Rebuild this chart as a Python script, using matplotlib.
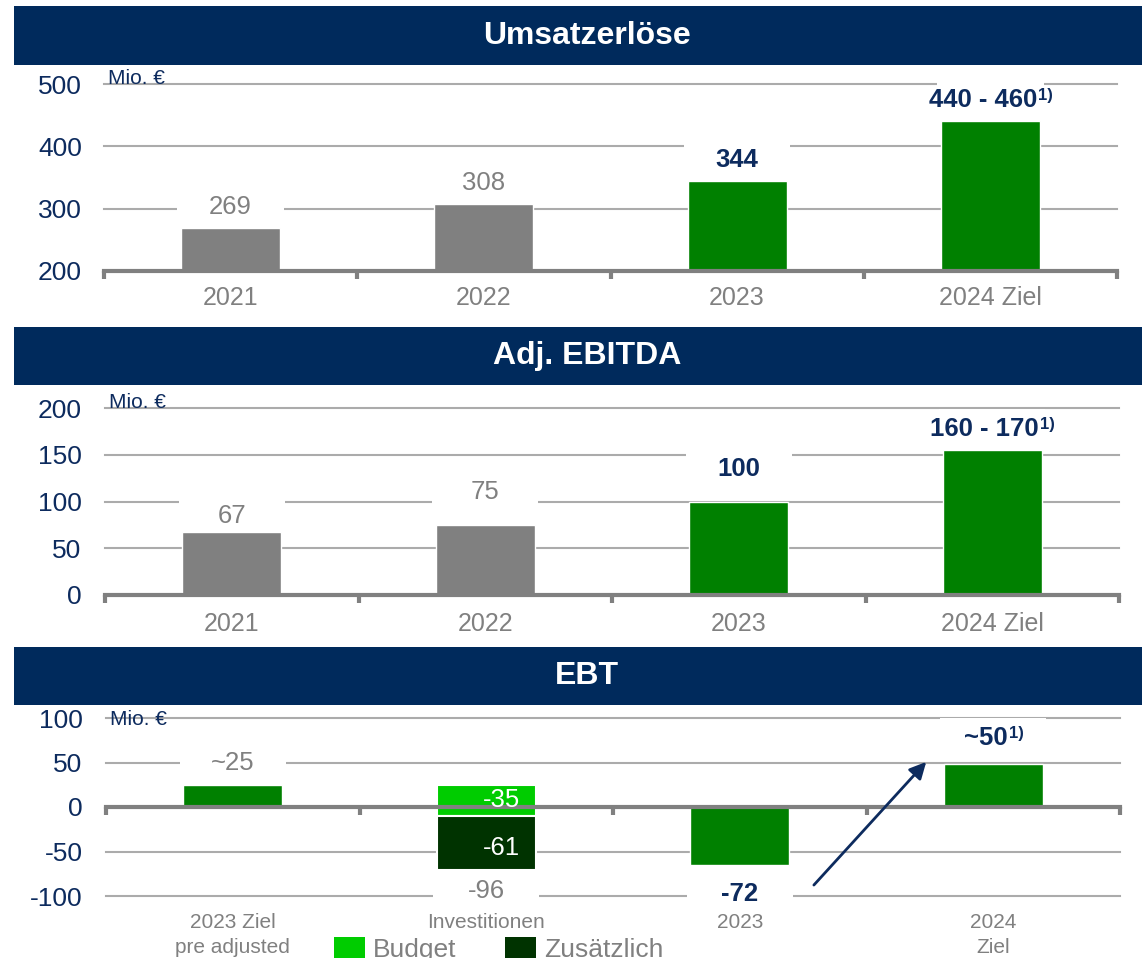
import matplotlib.pyplot as plt
from matplotlib.patches import Rectangle, Patch

plt.rcParams['font.family'] = ['Liberation Sans', 'DejaVu Sans']
plt.rcParams['axes.unicode_minus'] = False

W, H = 1142, 958
navy = '#002A5C'
txt_navy = '#0D2B5E'
grey = '#808080'
gridc = '#ABABAB'
green = '#008000'
light_green = '#00CC00'
dark_green = '#003300'

# data
years = ['2021', '2022', '2023', '2024 Ziel']
umsatz = [269, 308, 344, 440]
umsatz_lbl = ['269', '308', '344', '440 - 460']
ebitda = [67, 75, 99, 155]
ebitda_lbl = ['67', '75', '100', '160 - 170']
ebt_cats = ['2023 Ziel\npre adjusted', 'Investitionen', '2023', '2024\nZiel']
ebt_ziel = 25
budget = -35
zusaetzlich = -61
ebt_2023 = -65
ebt_2024 = 48
ebt_2023_lbl = '-72'
ebt_2024_lbl = '~50'
arrow_tail = (2.285, -90)
arrow_tip = (2.743, 53)

bar_colors = [grey, grey, green, green]
bw = 0.39

fig = plt.figure(figsize=(W / 100, H / 100), dpi=100)


def make_ax(left, right, top, bottom):
    return fig.add_axes([left / W, 1 - bottom / H, (right - left) / W, (bottom - top) / H])


def header(top, bottom, title):
    fig.add_artist(Rectangle((14 / W, 1 - bottom / H), 1, (bottom - top) / H,
                             transform=fig.transFigure, color=navy, lw=0))
    fig.text(587 / W, 1 - (top + bottom) / 2 / H, title, color='white', fontsize=23,
             fontweight='bold', ha='center', va='center')


def style(ax, ylim, yticks, cats, base, ypad, xpad, xsize, mio_dy=0):
    ax.set_xlim(-0.5, 3.5)
    ax.set_ylim(ylim)
    for s in ['top', 'right', 'left']:
        ax.spines[s].set_visible(False)
    ax.spines['bottom'].set_position(('data', base))
    ax.spines['bottom'].set_color(grey)
    ax.spines['bottom'].set_linewidth(3)
    ax.spines['bottom'].set_zorder(3)
    ax.set_yticks(yticks)
    ax.tick_params(axis='y', length=0, labelsize=19, labelcolor=txt_navy, pad=ypad)
    for y in yticks:
        if y != base:
            ax.axhline(y, color=gridc, lw=1.5, zorder=0.5, clip_on=False)
    ax.set_xticks(range(4))
    ax.set_xticklabels(cats)
    ax.set_xticks([-0.5, 0.5, 1.5, 2.5, 3.5], minor=True)
    ax.tick_params(axis='x', which='major', length=0, labelcolor=grey, labelsize=xsize, pad=xpad)
    ax.tick_params(axis='x', which='minor', length=6, width=3, color=grey, direction='out')
    ax.annotate('Mio. €', xy=(0.004, 1.0), xycoords='axes fraction', xytext=(0, mio_dy),
                textcoords='offset points', fontsize=15, color=txt_navy,
                va='baseline', ha='left', zorder=6)


def label(ax, x, yval, text, off_px, k, bold=False, color=grey, sup=False, box=True, xoff=0.0):
    y = yval + off_px * k
    if box:
        ax.bar(x, 40 * k, bottom=y - 20 * k, width=0.42, color='white', zorder=1, clip_on=False)
    t = ax.text(x + xoff, y, text, ha='center', va='center', fontsize=18.5, color=color,
                fontweight='bold' if bold else 'normal', zorder=5)
    if sup:
        ax.annotate('1)', xy=(1, 1), xycoords=t, xytext=(1, 0), textcoords='offset points',
                    ha='left', va='top', fontsize=12, fontweight='bold', color=txt_navy, zorder=5)


# ---- Umsatzerlöse
header(6, 65, 'Umsatzerlöse')
ax1 = make_ax(104, 1117, 84, 271)
style(ax1, (200, 500), [200, 300, 400, 500], years, 200, 16, 10.5, 18)
k1 = 300 / (271 - 84)
ax1.bar(range(4), [v - 200 for v in umsatz], bottom=200, width=bw, color=bar_colors,
        edgecolor='white', lw=1, zorder=2)
for i, (v, s) in enumerate(zip(umsatz, umsatz_lbl)):
    hist = i < 2
    label(ax1, i, v, s, 21, k1, bold=not hist, color=grey if hist else txt_navy,
          sup=(i == 3), xoff=-0.03 if i == 3 else 0)

# ---- Adj. EBITDA
header(327, 385, 'Adj. EBITDA')
ax2 = make_ax(105, 1119, 408, 595)
style(ax2, (0, 200), [0, 50, 100, 150, 200], years, 0, 17, 12.5, 18)
k2 = 200 / (595 - 408)
ax2.bar(range(4), ebitda, width=bw, color=bar_colors, edgecolor='white', lw=1, zorder=2)
offs2 = [16, 33, 33, 21]
for i, (v, s) in enumerate(zip(ebitda, ebitda_lbl)):
    hist = i < 2
    label(ax2, i, v, s, offs2[i], k2, bold=not hist, color=grey if hist else txt_navy,
          sup=(i == 3), xoff=-0.03 if i == 3 else 0)

# ---- EBT
header(647, 705, 'EBT')
ax3 = make_ax(106, 1120, 718, 896)
k3 = 200 / (896 - 718)
style(ax3, (-100, 100), [-100, -50, 0, 50, 100], ebt_cats, 0, 17, 76, 15, mio_dy=-5)
for t in ax3.get_xticklabels():
    t.set_linespacing(1.45)
ax3.bar(0, ebt_ziel, width=bw, color=green, edgecolor='white', lw=1, zorder=2)
ax3.bar(1, budget, bottom=ebt_ziel, width=bw, color=light_green, edgecolor='white', lw=1.5, zorder=2)
ax3.bar(1, zusaetzlich, bottom=ebt_ziel + budget, width=bw, color=dark_green, edgecolor='white',
        lw=1.5, zorder=2)
ax3.bar(2, ebt_2023, width=bw, color=green, edgecolor='white', lw=1, zorder=2)
ax3.bar(3, ebt_2024, width=bw, color=green, edgecolor='white', lw=1, zorder=2)

label(ax3, 0, ebt_ziel, '~' + str(ebt_ziel), 22, k3)
ax3.text(1.06, ebt_ziel + budget / 2, str(budget), ha='center', va='center', fontsize=18.5,
         color='white', zorder=5)
ax3.text(1.06, ebt_ziel + budget + zusaetzlich / 2 - 6, str(zusaetzlich), ha='center', va='center',
         fontsize=18.5, color='white', zorder=5)
total = budget + zusaetzlich
label(ax3, 1, ebt_ziel + total, str(total), -21, k3)
label(ax3, 2, ebt_2023, ebt_2023_lbl, -29, k3, bold=True, color=txt_navy)
label(ax3, 3, ebt_2024, ebt_2024_lbl, 26, k3, bold=True, color=txt_navy, sup=True, xoff=-0.03)

ax3.annotate('', xy=arrow_tip, xytext=arrow_tail,
             arrowprops=dict(arrowstyle='-|>', color=txt_navy, lw=2, mutation_scale=25),
             zorder=6)

ax3.legend(handles=[Patch(fc=light_green), Patch(fc=dark_green)], labels=['Budget', 'Zusätzlich'],
           ncol=2, loc='upper left', bbox_to_anchor=(334 / W, 1 - 937 / H),
           bbox_transform=fig.transFigure, frameon=False, fontsize=19, labelcolor=grey,
           handlelength=1.17, handleheight=0.83, handletextpad=0.3, columnspacing=1.85,
           borderpad=0, borderaxespad=0)

fig.savefig('out.png', dpi=100)
